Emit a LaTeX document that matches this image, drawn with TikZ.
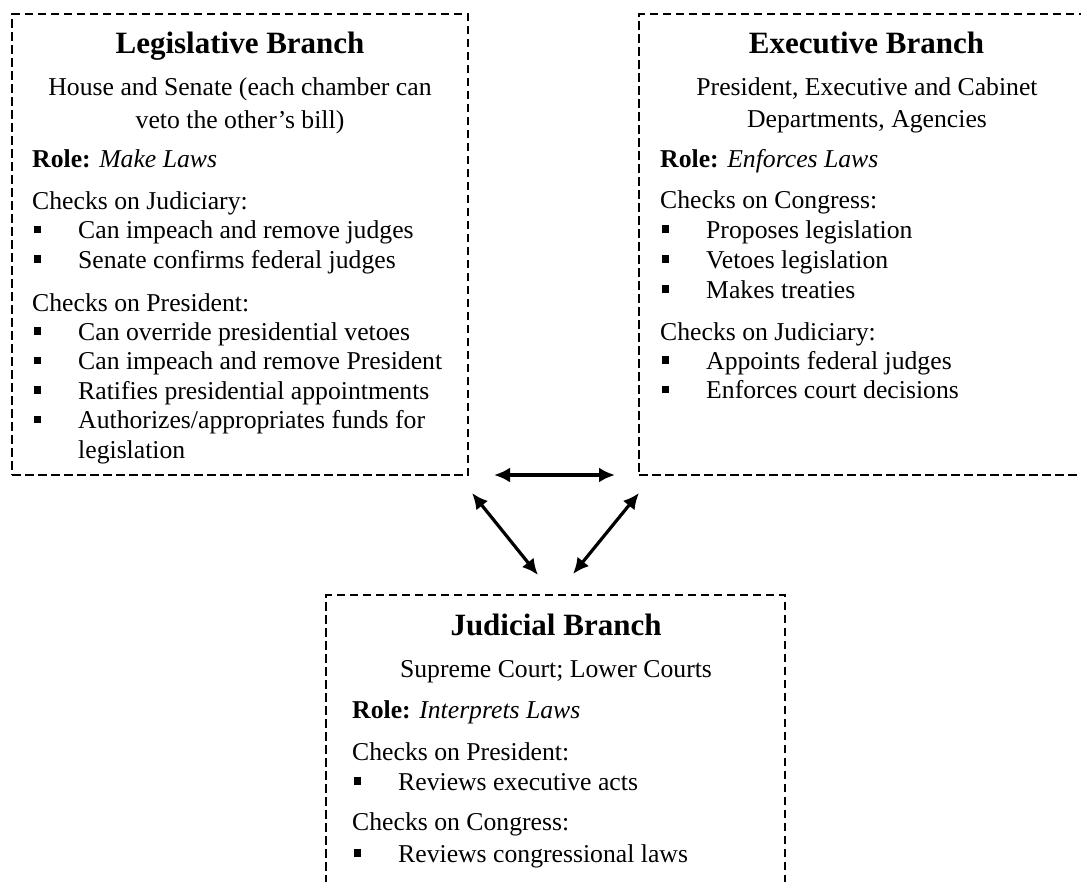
\documentclass[tikz,border=0pt]{standalone}
\usepackage{fontspec}
\setmainfont{Liberation Serif}
\usetikzlibrary{arrows.meta}

\newcommand\bodyfont{\fontsize{25.7}{30}\selectfont}
\newcommand\titlefont{\fontsize{31}{36}\selectfont\bfseries}

% one bulleted line: name, x of the text column, baseline y, text
\newcommand\bitem[4]{%
  \node[bulletsq] (#1-sq) at ({#2+5.5},{#3-9}) {};
  \node[txt] (#1) at ({#2+46},#3) {#4};
}

\begin{document}
\begin{tikzpicture}[x=1pt,y=-1pt,
  box/.style={draw, dash pattern=on 8.5pt off 4.5pt, line width=2.8pt, inner sep=0pt},
  txt/.style={anchor=base west, inner sep=0pt, font=\bodyfont},
  ctr/.style={anchor=base, inner sep=0pt, font=\bodyfont},
  ttl/.style={anchor=base, inner sep=0pt, font=\titlefont},
  bulletsq/.style={fill=black, minimum size=7.5pt, inner sep=0pt},
  link/.style={line width=3.2pt, {Latex[length=16pt,width=15pt]}-{Latex[length=16pt,width=15pt]}}]

\useasboundingbox (0,0) rectangle (1081,881);
\clip (0,0) rectangle (1081,881);
\fill[white] (0,0) rectangle (1081,881);

% the three branch frames
\node[box, minimum width=456pt, minimum height=461pt] (leg) at (240,244.5) {};
\node[box, minimum width=455pt, minimum height=461pt] (exe) at (866.5,244.5) {};
\node[box, minimum width=459pt, minimum height=310pt] (jud) at (555.5,750) {};

% Legislative branch
\node[ttl] (legT) at (240,53) {Legislative Branch};
\node[ctr] (legS1) at (240,95) {House and Senate (each chamber can};
\node[ctr] (legS2) at (240,128) {veto the other’s bill)};
\node[txt] (legR) at (32,167) {\textbf{Role:} \textit{Make Laws}};
\node[txt] (legC1) at (32,209) {Checks on Judiciary:};
\bitem{legA}{32}{238.5}{Can impeach and remove judges}
\bitem{legB}{32}{268}{Senate confirms federal judges}
\node[txt] (legC2) at (32,311) {Checks on President:};
\bitem{legC}{32}{340}{Can override presidential vetoes}
\bitem{legD}{32}{369.5}{Can impeach and remove President}
\bitem{legE}{32}{399}{Ratifies presidential appointments}
\bitem{legF}{32}{428.5}{Authorizes/appropriates funds for}
\node[txt] (legF2) at (78,458) {legislation};

% Executive branch
\node[ttl] (exeT) at (866.5,53) {Executive Branch};
\node[ctr] (exeS1) at (867,95.5) {President, Executive and Cabinet};
\node[ctr] (exeS2) at (867,127) {Departments, Agencies};
\node[txt] (exeR) at (660,167) {\textbf{Role:} \textit{Enforces Laws}};
\node[txt] (exeC1) at (660,208.5) {Checks on Congress:};
\bitem{exeA}{660}{238}{Proposes legislation}
\bitem{exeB}{660}{268}{Vetoes legislation}
\bitem{exeC}{660}{298}{Makes treaties}
\node[txt] (exeC2) at (660,340) {Checks on Judiciary:};
\bitem{exeD}{660}{369}{Appoints federal judges}
\bitem{exeE}{660}{398.5}{Enforces court decisions}

% Judicial branch
\node[ttl] (judT) at (556,635) {Judicial Branch};
\node[ctr] (judS1) at (556,677) {Supreme Court; Lower Courts};
\node[txt] (judR) at (352,718) {\textbf{Role:} \textit{Interprets Laws}};
\node[txt] (judC1) at (352,760) {Checks on President:};
\bitem{judA}{352}{790}{Reviews executive acts}
\node[txt] (judC2) at (352,830) {Checks on Congress:};
\bitem{judB}{352}{862}{Reviews congressional laws}

% mutual checks between the branches
\coordinate (le) at (494,475);
\coordinate (el) at (615,475);
\coordinate (lj) at (472,493);
\coordinate (jl) at (538,575);
\coordinate (jx) at (573,574);
\coordinate (xj) at (639,493);
\draw[link] (le) -- (el);
\draw[link] (lj) -- (jl);
\draw[link] (jx) -- (xj);
\end{tikzpicture}
\end{document}
